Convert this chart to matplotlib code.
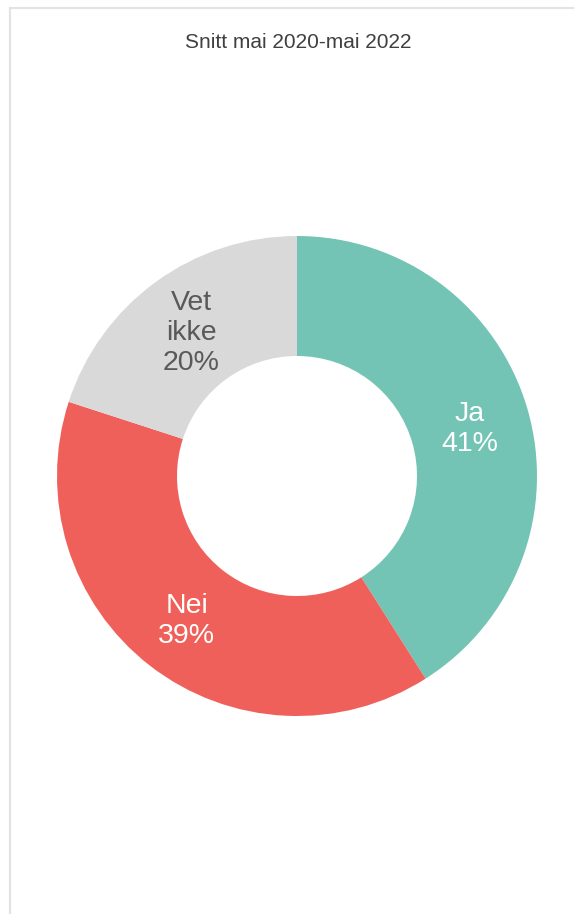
import numpy as np
import matplotlib.pyplot as plt
from matplotlib.lines import Line2D

plt.rcParams['font.family'] = ['Liberation Sans', 'DejaVu Sans']

# data
categories = ['Ja', 'Nei', 'Vet\nikke']
shares = [41, 39, 20]
colors = ['#73c4b4', '#f0605a', '#d9d9d9']
label_colors = ['white', 'white', '#595959']
title = 'Snitt mai 2020-mai 2022'

W, H = 574, 914
fig = plt.figure(figsize=(W / 100, H / 100), dpi=100)

# donut centre / radius in pixels
cx, cy, r = 297, 476, 240
ax = fig.add_axes([(cx - r) / W, (H - cy - r) / H, 2 * r / W, 2 * r / H])
wedges, _ = ax.pie(shares, colors=colors, startangle=90, counterclock=False,
                   radius=1.0, wedgeprops=dict(width=0.5, linewidth=0))
ax.set_xlim(-1, 1)
ax.set_ylim(-1, 1)
ax.set_aspect('equal')
ax.axis('off')

# labels in the middle of the ring, nudged a few px down
for w, lab, val, tc in zip(wedges, categories, shares, label_colors):
    mid = np.deg2rad((w.theta1 + w.theta2) / 2)
    ax.text(0.75 * np.cos(mid), 0.75 * np.sin(mid) - 0.012, '{}\n{}%'.format(lab, val),
            ha='center', va='center', color=tc, fontsize=20.5, linespacing=1.2)

fig.text(298 / W, 1 - 42 / H, title, ha='center', va='center',
         fontsize=15, color='#404040')

# light frame on top and left
fig.add_artist(Line2D([9.5 / W, 1], [1 - 7.5 / H, 1 - 7.5 / H], color='#e3e3e3', lw=1.5))
fig.add_artist(Line2D([9.5 / W, 9.5 / W], [0, 1 - 7.5 / H], color='#e3e3e3', lw=1.5))

fig.savefig('out.png', dpi=100)
